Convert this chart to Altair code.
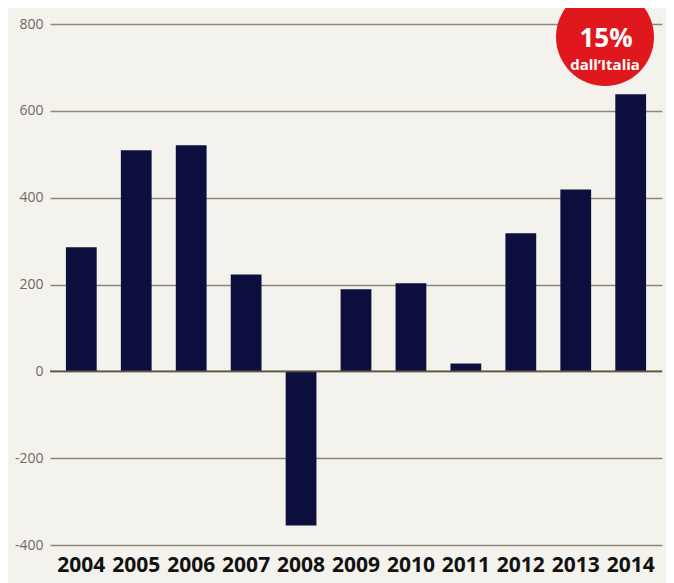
import altair as alt
import pandas as pd

years = ["2004", "2005", "2006", "2007", "2008", "2009", "2010", "2011", "2012", "2013", "2014"]
values = [286, 509, 521, 223, -355, 189, 203, 18, 318, 419, 638]
y_ticks = [-400, -200, 0, 200, 400, 600, 800]
badge_big = ["15%"]
badge_small = ["dall\u2019Italia"]

df = pd.DataFrame({"anno": years, "valore": values})

BG = "#f4f2ec"
BAR = "#0c0f3d"
GRID = "#8d8678"

base = alt.Chart(df)

bars = base.mark_bar(color=BAR).encode(
    x=alt.X("anno:N", sort=years,
            scale=alt.Scale(paddingInner=0.44, paddingOuter=0.29),
            axis=alt.Axis(title=None, labelAngle=0, labelFont="Open Sans",
                          labelFontSize=21, labelFontWeight="bold", labelColor="#111111",
                          domain=False, ticks=False, labelPadding=9, grid=False)),
    y=alt.Y("valore:Q",
            scale=alt.Scale(domain=[-400, 800], nice=False, zero=True),
            axis=alt.Axis(title=None, values=y_ticks, labelFont="Open Sans",
                          labelFontSize=14, labelColor="#6e6a62", domain=False,
                          ticks=False, labelPadding=7, grid=True, gridColor=GRID,
                          gridWidth=1.4, labelExpr="datum.value")),
)

zero = alt.Chart(pd.DataFrame({"z": [0]})).mark_rule(color="#5e5640", strokeWidth=1.6).encode(
    y="z:Q"
)

badge = alt.Chart(pd.DataFrame({"t": badge_big})).mark_circle(
    color="#e0171c", opacity=1, size=9600
).encode(x=alt.value(555), y=alt.value(13))

badge_t1 = alt.Chart(pd.DataFrame({"t": badge_big})).mark_text(
    color="white", font="Open Sans", fontWeight="bold", fontSize=26, baseline="middle"
).encode(x=alt.value(556), y=alt.value(15), text="t:N")

badge_t2 = alt.Chart(pd.DataFrame({"t": badge_small})).mark_text(
    color="white", font="Open Sans", fontWeight="bold", fontSize=15, baseline="middle"
).encode(x=alt.value(555), y=alt.value(41), text="t:N")

chart = alt.layer(bars, zero, badge, badge_t1, badge_t2).properties(
    width=612, height=521,
    background=BG,
    autosize=alt.AutoSizeParams(type="none"),
    padding={"left": 42, "top": 16, "right": 4, "bottom": 38},
).configure_view(stroke=None, fill=BG)

chart.save("out.html", embed_options={"renderer": "svg", "actions": False})
